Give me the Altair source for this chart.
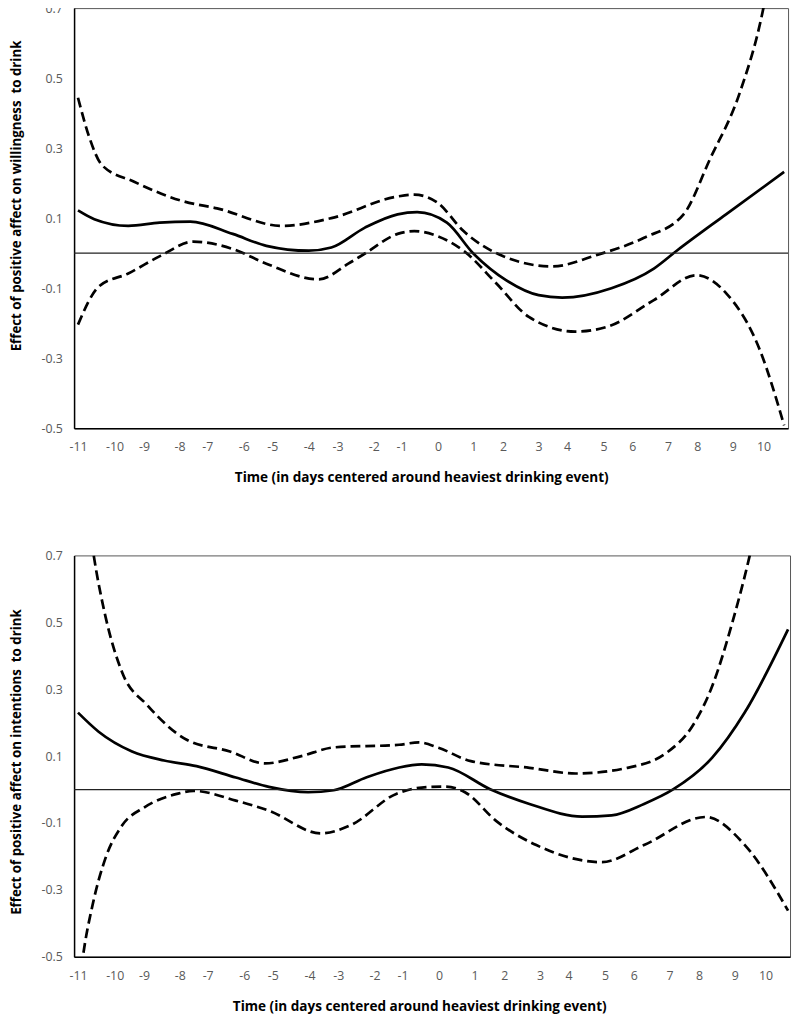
import altair as alt
import pandas as pd

# ---------------- data ----------------
# x-axis label positions (in days) and the labels shown
tick_pos = [-11.0, -9.88, -8.98, -7.89, -7.04, -5.92, -5.05, -3.93, -3.05, -1.94, -1.09,
            0.03, 1.11, 2.02, 3.11, 3.98, 5.10, 5.98, 7.07, 7.97, 9.06, 10.0]
y_ticks = [-0.5, -0.3, -0.1, 0.1, 0.3, 0.5, 0.7]

# Panel 1: willingness to drink
will_est_x = [-11, -10.5, -9.46, -8.5, -7.56, -6.26, -5.23, -3.93, -3.24, -2.21, -1.21, -0.61,
              0.30, 1.11, 2.11, 3.11, 3.83, 5.34, 6.64, 7.34, 8.85, 10.63]
will_est_y = [0.122, 0.097, 0.078, 0.087, 0.090, 0.055, 0.021, 0.007, 0.016, 0.073, 0.111, 0.117,
              0.087, -0.001, -0.077, -0.120, -0.127, -0.100, -0.044, 0.007, 0.111, 0.232]
will_up_x = [-11, -10.65, -10.27, -9.28, -7.77, -6.74, -4.75, -3.24, -1.21, -0.70, 0.0, 0.81,
             2.11, 3.53, 4.83, 6.34, 7.55, 8.36, 9.27, 9.97, 10.1]
will_up_y = [0.444, 0.330, 0.252, 0.204, 0.148, 0.128, 0.078, 0.100, 0.162, 0.167, 0.145, 0.063,
             -0.012, -0.038, -0.007, 0.044, 0.111, 0.269, 0.458, 0.689, 0.75]
will_lo_x = [-11, -10.37, -9.46, -8.46, -7.47, -6.26, -5.23, -3.63, -2.72, -2.21, -1.21, -0.70,
             0.0, 0.81, 1.81, 2.81, 4.23, 5.22, 6.64, 7.94, 8.85, 9.88, 10.63]
will_lo_y = [-0.204, -0.096, -0.058, -0.007, 0.033, 0.012, -0.030, -0.075, -0.030, -0.001, 0.055, 0.063,
             0.049, 0.007, -0.086, -0.182, -0.224, -0.210, -0.134, -0.063, -0.114, -0.275, -0.492]

# Panel 2: intentions to drink
int_est_x = [-11, -10.37, -9.35, -8.37, -7.38, -6.18, -5.17, -3.97, -3.19, -2.18, -1.19, -0.50,
             0.31, 1.59, 2.79, 4.40, 5.30, 6.29, 7.19, 8.38, 9.37, 10.69]
int_est_y = [0.230, 0.173, 0.114, 0.087, 0.070, 0.036, 0.008, -0.008, -0.002, 0.037, 0.066, 0.075,
             0.066, 0.001, -0.043, -0.081, -0.077, -0.043, 0.001, 0.096, 0.231, 0.479]
int_up_x = [-11, -10.75, -10.52, -10.16, -9.65, -8.88, -7.68, -6.36, -5.29, -4.18, -3.19, -1.19,
            -0.59, 0.01, 1.0, 2.79, 4.2, 5.78, 6.98, 7.79, 8.38, 8.98, 9.52, 10.0, 10.7]
int_up_y = [1.05, 0.86, 0.70, 0.517, 0.350, 0.252, 0.149, 0.114, 0.078, 0.100, 0.126, 0.134,
            0.141, 0.125, 0.085, 0.065, 0.048, 0.065, 0.110, 0.193, 0.311, 0.497, 0.70, 0.92, 1.3]
int_lo_x = [-11, -10.85, -10.55, -10.16, -9.65, -8.97, -7.98, -7.47, -6.18, -5.17, -3.58, -2.68,
            -1.28, -0.5, 0.22, 0.82, 1.8, 3.0, 5.0, 6.29, 8.17, 9.37, 10.69]
int_lo_y = [-0.62, -0.50, -0.343, -0.205, -0.107, -0.053, -0.013, -0.004, -0.033, -0.063, -0.131, -0.107,
            -0.013, 0.006, 0.009, -0.008, -0.096, -0.166, -0.217, -0.166, -0.082, -0.166, -0.362]

X_TITLE = "Time (in days centered around heaviest drinking event)"
Y_TITLE_TOP = "Effect of positive affect on willingness\u00a0 to drink"
Y_TITLE_BOTTOM = "Effect of positive affect on intentions\u00a0 to drink"
FONT = "Open Sans"


def panel(est, up, lo, ytitle, width, height, title_x, title_y):
    x_enc = alt.X(
        "day:Q",
        scale=alt.Scale(domain=[-11.12, 10.75], nice=False, zero=False),
        axis=alt.Axis(
            values=tick_pos, labelExpr="'' + round(datum.value)", title=X_TITLE,
            ticks=False, grid=False, domain=True, domainColor="black", domainWidth=1.5,
            labelPadding=13, titlePadding=18, titleX=title_x, titleFontSize=13.75,
            labelFlush=False, labelOverlap=False,
        ),
    )
    y_enc = alt.Y(
        "value:Q",
        scale=alt.Scale(domain=[-0.5, 0.7], nice=False, zero=False),
        axis=alt.Axis(
            values=y_ticks, labelExpr="'' + round(datum.value * 10) / 10", title=ytitle,
            ticks=False, grid=False, domain=True, domainColor="black", domainWidth=1.5,
            labelPadding=12, titlePadding=18, titleY=title_y, titleFontSize=13.5,
            labelFlush=False,
        ),
    )

    def df(xs, ys):
        return pd.DataFrame({"day": xs, "value": ys})

    zero = alt.Chart(pd.DataFrame({"value": [0.0]})).mark_rule(
        color="#222222", strokeWidth=1.2
    ).encode(y=y_enc)
    est_line = alt.Chart(df(*est)).mark_line(
        color="black", strokeWidth=2.75, interpolate="monotone", clip=True
    ).encode(x=x_enc, y=y_enc)
    up_line = alt.Chart(df(*up)).mark_line(
        color="black", strokeWidth=2.75, strokeDash=[10, 5], interpolate="monotone", clip=True
    ).encode(x=x_enc, y=y_enc)
    lo_line = alt.Chart(df(*lo)).mark_line(
        color="black", strokeWidth=2.75, strokeDash=[10, 5], interpolate="monotone", clip=True
    ).encode(x=x_enc, y=y_enc)
    return alt.layer(est_line, up_line, lo_line, zero).properties(width=width, height=height)


top = panel((will_est_x, will_est_y), (will_up_x, will_up_y), (will_lo_x, will_lo_y),
            Y_TITLE_TOP, 724, 426, 352, 190)
bottom = panel((int_est_x, int_est_y), (int_up_x, int_up_y), (int_lo_x, int_lo_y),
               Y_TITLE_BOTTOM, 726, 407, 350, 209)

chart = alt.vconcat(top, bottom, spacing=64).properties(
    padding={"top": -14, "left": 0, "right": 0, "bottom": 0},
    background="white",
).configure_view(
    stroke="#555555", strokeWidth=1
).configure_axis(
    labelFont=FONT, labelFontSize=12.5, labelColor="#595959",
    titleFont=FONT, titleFontWeight="bold", titleColor="black",
)

chart.save("out.html", embed_options={"renderer": "svg", "actions": False})
